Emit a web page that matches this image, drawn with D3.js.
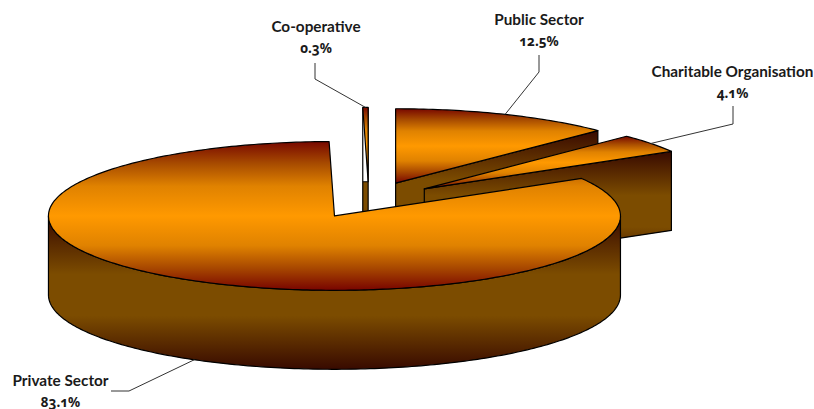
<!DOCTYPE html>
<html>
<head>
<meta charset="utf-8">
<script src="https://cdn.jsdelivr.net/npm/d3@7"></script>
<style>
  html, body { margin: 0; padding: 0; background: #fff; }
  text { font-family: "Lato", sans-serif; font-weight: 700; fill: #1a1a1a; }
  text.pct { font-family: "Noto Sans", "Open Sans", sans-serif; font-feature-settings: "onum" 1; font-variant-numeric: oldstyle-nums; }
</style>
</head>
<body>
<svg id="chart"></svg>
<script>
// chart data, share of each sector in percent
var categories = ["Co-operative", "Public Sector", "Charitable Organisation", "Private Sector"];
var shares = [0.3, 12.5, 4.1, 83.1];

var width = 814;
var height = 409;

// pie geometry
var pieX = 368.8;
var pieY = 200;
var radiusX = 286;
var radiusY = 74.4;
var depth = 79;
var explode = 0.245;
var firstAngle = -0.0188;

// label centre, two baselines, and the elbow of the leader
var labelX = [316, 539, 732.5, 60.5];
var labelY = [32, 25, 77, 386];
var elbows = [[315, 79], [539, 72], [733, 124], [129, 391]];
var leaderTop = [63, 55, 106, null];

var svg = d3.select("#chart")
  .attr("width", width)
  .attr("height", height)
  .style("display", "block");

var defs = svg.append("defs");

function addGradient(id, y1, y2, stops) {
  var g = defs.append("linearGradient")
    .attr("id", id)
    .attr("gradientUnits", "userSpaceOnUse")
    .attr("x1", 0).attr("x2", 0)
    .attr("y1", y1).attr("y2", y2);
  stops.forEach(function(s) {
    g.append("stop").attr("offset", s[0]).attr("stop-color", s[1]);
  });
}

var faceStops = [[0, "#780800"], [0.15, "#a84c00"], [0.3, "#e08200"], [0.5, "#ff9900"],
  [0.7, "#e08200"], [0.85, "#a84800"], [1, "#780400"]];
var wallStops = [[0, "#380a00"], [0.38, "#7c4c00"], [0.65, "#7c4c00"], [1, "#380a00"]];

var xScale = d3.scaleLinear().domain([-1, 1]).range([-radiusX, radiusX]);
var yScale = d3.scaleLinear().domain([-1, 1]).range([-radiusY, radiusY]);

var pie = d3.pie()
  .sort(null)
  .startAngle(firstAngle)
  .endAngle(firstAngle + 2 * Math.PI);

var slices = pie(shares);
var line = d3.line();

// point on the rim of a slice with its own centre c
function rim(c, angle, r) {
  return [c[0] + xScale(r * Math.sin(angle)), c[1] + yScale(-r * Math.cos(angle))];
}

function arcPoints(c, a0, a1) {
  var n = Math.max(2, Math.ceil(Math.abs(a1 - a0) * 60));
  return d3.range(n + 1).map(function(i) {
    return rim(c, a0 + (a1 - a0) * i / n, 1);
  });
}

function down(p) {
  return [p[0], p[1] + depth];
}

var pieGroup = svg.append("g")
  .attr("stroke-width", 1.2);

slices.forEach(function(d, i) {
  var mid = (d.startAngle + d.endAngle) / 2;
  var c = rim([pieX, pieY], mid, explode);
  d.center = c;
  d.mid = mid;

  var wall;
  var g = pieGroup.append("g").attr("class", "slice");

  if (d.startAngle < Math.PI && d.endAngle > Math.PI) {
    // big slice: only the front of the rim is seen
    var front = arcPoints(c, Math.PI / 2, 3 * Math.PI / 2);
    wall = front.concat(front.slice().reverse().map(down));
  } else if (d.endAngle > 0.01) {
    // cut face at the end of the slice
    var o = rim(c, d.endAngle, 1);
    wall = [c, o, down(o), down(c)];
  } else {
    // thin sliver at the top, only its lower half is filled
    var s = rim(c, d.startAngle, 1);
    addGradient("wall" + i, s[1], c[1] + depth, wallStops);
    g.append("path")
      .attr("d", line([[s[0], c[1]], c, down(c), [s[0], c[1] + depth]]) + "Z")
      .attr("fill", "url(#wall" + i + ")")
      .attr("stroke", "#000");
    g.append("path")
      .attr("d", line([s, [s[0], c[1]]]))
      .attr("fill", "none")
      .attr("stroke", "#000");
    g.append("path")
      .attr("d", line([[c[0], s[1]], c]))
      .attr("fill", "none")
      .attr("stroke", "#000");
  }

  if (wall) {
    addGradient("wall" + i, d3.min(wall, function(p) { return p[1]; }), d3.max(wall, function(p) { return p[1]; }), wallStops);
    g.append("path")
      .attr("d", line(wall) + "Z")
      .attr("fill", "url(#wall" + i + ")")
      .attr("stroke", "#000")
      .attr("stroke-linejoin", "round");
  }

  var face = [c].concat(arcPoints(c, d.startAngle, d.endAngle));
  addGradient("face" + i, d3.min(face, function(p) { return p[1]; }), d3.max(face, function(p) { return p[1]; }), faceStops);
  g.append("path")
    .attr("d", line(face) + "Z")
    .attr("fill", "url(#face" + i + ")")
    .attr("stroke", "#000")
    .attr("stroke-linejoin", "round");
});

// leaders and labels
var labels = svg.append("g");

slices.forEach(function(d, i) {
  var anchor = rim(d.center, d.mid, 1);
  if (d.mid > Math.PI / 2 && d.mid < 3 * Math.PI / 2) anchor = down(anchor);
  var pts = [anchor, elbows[i]];
  if (leaderTop[i] !== null) pts.push([elbows[i][0], leaderTop[i]]);
  else pts.push([elbows[i][0] - 18, elbows[i][1]]);

  labels.append("path")
    .attr("d", line(pts))
    .attr("fill", "none")
    .attr("stroke", "#333")
    .attr("stroke-width", 1);

  labels.append("text")
    .attr("x", labelX[i])
    .attr("y", labelY[i])
    .attr("text-anchor", "middle")
    .attr("font-size", 15.3)
    .text(categories[i]);

  labels.append("text")
    .attr("class", "pct")
    .attr("x", labelX[i])
    .attr("y", labelY[i] + 20.5)
    .attr("text-anchor", "middle")
    .attr("font-size", 13.5)
    .text(d3.format(".1f")(shares[i]) + "%");
});
</script>
</body>
</html>
